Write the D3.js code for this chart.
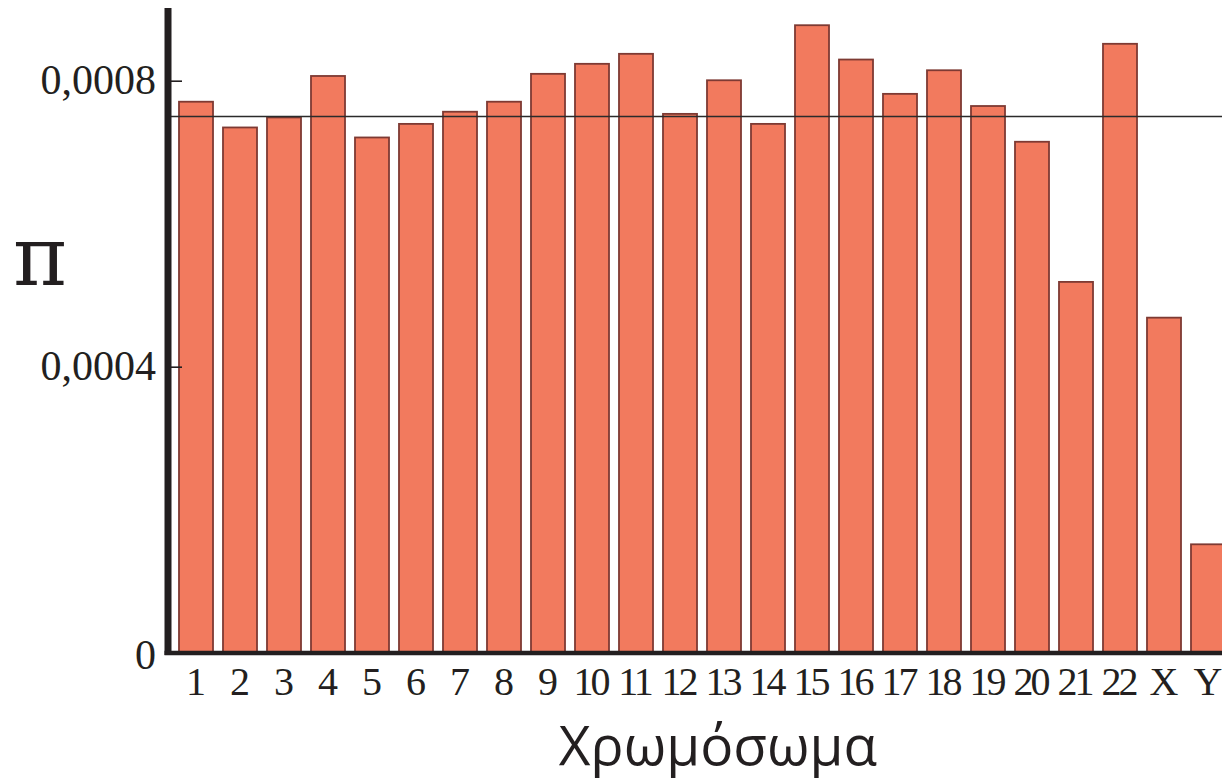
<!DOCTYPE html>
<html>
<head>
<meta charset="utf-8">
<script src="https://cdn.jsdelivr.net/npm/d3@7"></script>
<style>
  html, body { margin: 0; padding: 0; background: #fff; overflow: hidden; }
  svg { display: block; }
</style>
</head>
<body>
<svg id="chart" width="1222" height="783"></svg>
<script>
// Nucleotide diversity (π) per chromosome
const chromosomes = ["1","2","3","4","5","6","7","8","9","10","11","12",
                     "13","14","15","16","17","18","19","20","21","22","X","Y"];
const piValues = [0.000772, 0.000736, 0.000750, 0.000808, 0.000722, 0.000741,
                  0.000758, 0.000772, 0.000811, 0.000825, 0.000839, 0.000755,
                  0.000802, 0.000741, 0.000879, 0.000831, 0.000783, 0.000816,
                  0.000766, 0.000716, 0.000520, 0.000853, 0.000470, 0.000153];
const genomeAverage = 0.00075;
const yTickValues = [0, 0.0004, 0.0008];
const yTickLabels = ["0", "0,0004", "0,0008"];
const yLabel = "π";
const xLabel = "Χρωμόσωμα";

const svg = d3.select("#chart");
const W = 1222, H = 783;
const axisX = 168, baseY = 652.7;
const serif = "'Liberation Serif', 'DejaVu Serif', serif";

const x = d3.scaleBand()
  .domain(chromosomes)
  .range([174, 174 + chromosomes.length * 44])
  .paddingInner(0.227)
  .paddingOuter(0.1135);

const y = d3.scaleLinear()
  .domain([0, 0.0008])
  .range([baseY, 80.7]);

// bars
svg.append("g")
  .selectAll("rect")
  .data(chromosomes.map((c, i) => ({ c, v: piValues[i] })))
  .join("rect")
  .attr("x", d => x(d.c))
  .attr("y", d => y(d.v) + 1)
  .attr("width", x.bandwidth())
  .attr("height", d => baseY - y(d.v) - 1)
  .attr("fill", "#f27a5e")
  .attr("stroke", "#7e3a33")
  .attr("stroke-width", 1.8);

// genome-wide average
svg.append("line")
  .attr("x1", axisX).attr("x2", W)
  .attr("y1", y(genomeAverage)).attr("y2", y(genomeAverage))
  .attr("stroke", "#2b2b2b")
  .attr("stroke-width", 1.6);

// inner tick marks
const tickG = svg.append("g")
  .attr("transform", `translate(${axisX + 3},0)`)
  .call(d3.axisRight(y).tickValues(yTickValues.filter(v => v > 0)).tickSize(11).tickFormat(""));
tickG.select(".domain").remove();
tickG.selectAll("line").attr("stroke", "#231f20").attr("stroke-width", 1.6);

// y tick labels
const yLab = svg.append("g")
  .attr("transform", `translate(${axisX - 4},0)`)
  .call(d3.axisLeft(y).tickValues(yTickValues).tickSize(0).tickPadding(8)
        .tickFormat((d, i) => yTickLabels[i]));
yLab.select(".domain").remove();
yLab.selectAll("text")
  .attr("font-family", serif)
  .attr("font-size", 42)
  .attr("fill", "#231f20")
  .attr("dy", "0.3em");
yLab.selectAll(".tick").filter(d => d === 0).select("text").attr("dy", "0.38em");

// x tick labels
const xLab = svg.append("g")
  .attr("transform", `translate(0,${baseY})`)
  .call(d3.axisBottom(x).tickSize(0).tickPadding(0));
xLab.select(".domain").remove();
xLab.selectAll("text")
  .attr("font-family", serif)
  .attr("font-size", 40)
  .attr("letter-spacing", "-3px")
  .attr("fill", "#231f20")
  .attr("y", 42)
  .attr("dx", "-1.5px")
  .attr("dy", 0);

// axis lines
svg.append("line")
  .attr("x1", axisX).attr("x2", axisX)
  .attr("y1", 8).attr("y2", 655)
  .attr("stroke", "#231f20").attr("stroke-width", 7);
svg.append("line")
  .attr("x1", 164.5).attr("x2", W)
  .attr("y1", 653).attr("y2", 653)
  .attr("stroke", "#231f20").attr("stroke-width", 4.5);

// axis titles
svg.append("text")
  .attr("x", 40).attr("y", 285)
  .attr("text-anchor", "middle")
  .attr("font-family", "'DejaVu Serif', serif")
  .attr("font-size", 82)
  .attr("fill", "#231f20")
  .text(yLabel);

svg.append("text")
  .attr("x", 718).attr("y", 765)
  .attr("text-anchor", "middle")
  .attr("font-family", "'Open Sans', 'Noto Sans', sans-serif")
  .attr("font-size", 55)
  .attr("fill", "#231f20")
  .text(xLabel);
</script>
</body>
</html>
